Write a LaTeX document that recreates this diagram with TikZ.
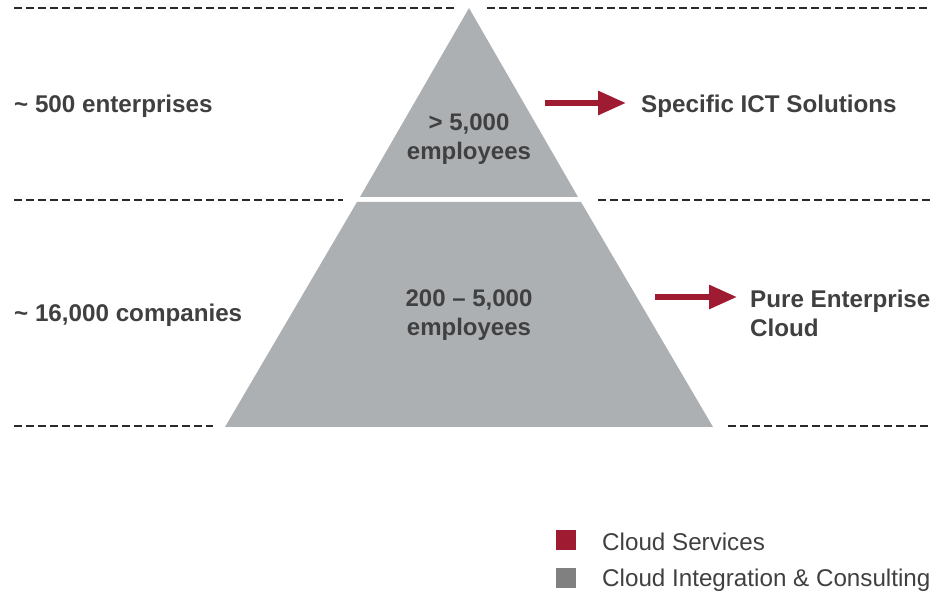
\documentclass[tikz,border=0pt]{standalone}
\usepackage{fontspec}
\setmainfont{Liberation Sans}
\usetikzlibrary{arrows.meta}
\definecolor{pyrfill}{HTML}{ADB0B3}
\definecolor{labeltext}{HTML}{404040}
\definecolor{accentred}{HTML}{9E1B32}
\definecolor{legendgray}{HTML}{808080}
\definecolor{dashcol}{HTML}{2A2A2A}
\tikzset{
  sepline/.style={draw=dashcol, line width=2.3pt, dash pattern=on 7.5pt off 4.5pt},
  layer/.style={fill=pyrfill, draw=none},
  sidelabel/.style={font=\bfseries\fontsize{24.2}{29}\selectfont, text=labeltext, anchor=west, inner sep=0pt, align=left},
  innerlabel/.style={font=\bfseries\fontsize{24}{29}\selectfont, text=labeltext, align=center, inner sep=0pt},
  redarrow/.style={draw=accentred, line width=6pt, -{Triangle[length=28pt, width=23pt]}},
  legendbox/.style={minimum size=20pt, inner sep=0pt, draw=none},
  legendtext/.style={font=\fontsize{24.2}{29}\selectfont, text=labeltext, anchor=west, inner sep=0pt}
}
\begin{document}
\begin{tikzpicture}[x=1pt, y=-1pt]
  \useasboundingbox (0,0) rectangle (932,593);

  % separator lines between the size bands
  \coordinate (t1) at (14,8);   \coordinate (t2) at (455,8);
  \coordinate (t3) at (487,8);  \coordinate (t4) at (930,8);
  \coordinate (m1) at (14,200); \coordinate (m2) at (343,200);
  \coordinate (m3) at (598,200);\coordinate (m4) at (930,200);
  \coordinate (b1) at (14,426); \coordinate (b2) at (213,426);
  \coordinate (b3) at (728,426);\coordinate (b4) at (930,426);
  \draw[sepline] (t1) -- (t2);
  \draw[sepline] (t3) -- (t4);
  \draw[sepline] (m1) -- (m2);
  \draw[sepline] (m3) -- (m4);
  \draw[sepline] (b1) -- (b2);
  \draw[sepline] (b3) -- (b4);

  % pyramid: top triangle and lower trapezoid
  \fill[layer] (469,8) -- (578,197) -- (360,197) -- cycle;
  \fill[layer] (357,202) -- (581,202) -- (713,427) -- (225,427) -- cycle;

  % band labels
  \node[sidelabel] (ent) at (14,106) {\textasciitilde{} 500 enterprises};
  \node[sidelabel] (comp) at (14,315) {\textasciitilde{} 16,000 companies};

  % pyramid labels
  \node[innerlabel] (top) at (469,139) {> 5,000\\employees};
  \node[innerlabel] (mid) at (469,315) {200 – 5,000\\employees};

  % offerings
  \node[sidelabel] (ict) at (641,106) {Specific ICT Solutions};
  \node[sidelabel] (pec) at (750,313) {Pure Enterprise\\Cloud};

  \coordinate (a1s) at (545,103); \coordinate (a1e) at (626,103);
  \coordinate (a2s) at (655,297); \coordinate (a2e) at (737,297);
  \draw[redarrow] (a1s) -- (a1e);
  \draw[redarrow] (a2s) -- (a2e);

  % legend
  \node[legendbox, fill=accentred] (lk1) at (566,540) {};
  \node[legendbox, fill=legendgray] (lk2) at (566,578) {};
  \node[legendtext] (lt1) at (602,542) {Cloud Services};
  \node[legendtext] (lt2) at (602,580) {Cloud Integration \& Consulting};
\end{tikzpicture}
\end{document}
